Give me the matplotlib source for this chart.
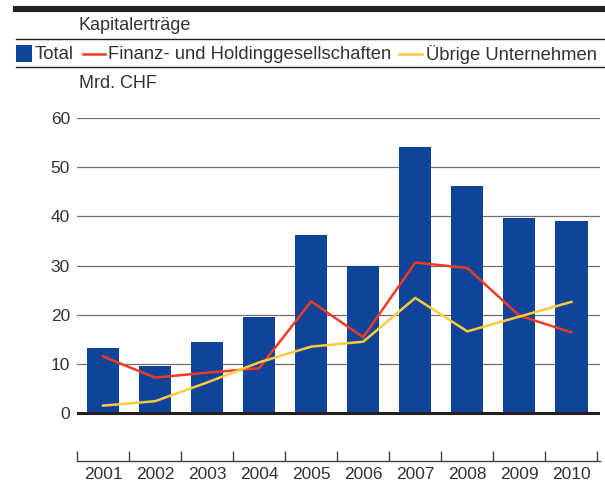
import matplotlib
matplotlib.use('Agg')
import matplotlib.pyplot as plt
from matplotlib.lines import Line2D
from matplotlib.patches import Rectangle

plt.rcParams['font.family'] = ['Liberation Sans', 'DejaVu Sans']

years = ['2001', '2002', '2003', '2004', '2005', '2006', '2007', '2008', '2009', '2010']
total = [13.3, 9.6, 14.5, 19.5, 36.2, 30.0, 54.1, 46.1, 39.6, 39.0]
finanz = [11.5, 7.2, 8.2, 9.1, 22.7, 15.4, 30.6, 29.5, 19.8, 16.4]
uebrige = [1.5, 2.4, 6.2, 10.3, 13.5, 14.5, 23.4, 16.6, 19.6, 22.6]
series_names = ['Total', 'Finanz- und Holdinggesellschaften', 'Übrige Unternehmen']

blue = '#10449a'
red = '#ee3b24'
yellow = '#fdcb3b'
txt = '#333333'

W, H = 605, 486
fig = plt.figure(figsize=(W / 100, H / 100), dpi=100)

def fx(px):
    return px / W

def fy(py):
    return 1 - py / H

# header rules
fig.add_artist(Line2D([fx(16), 1], [fy(9), fy(9)], color='#231f20', lw=4.4))
fig.add_artist(Line2D([fx(16), 1], [fy(39.5), fy(39.5)], color='#231f20', lw=1.0))
fig.add_artist(Line2D([fx(16), 1], [fy(67.5), fy(67.5)], color='#231f20', lw=1.0))

fig.text(fx(79), fy(26), 'Kapitalerträge', fontsize=13, color=txt, va='center', ha='left')
fig.text(fx(79), fy(83), 'Mrd. CHF', fontsize=13, color=txt, va='center', ha='left')

# legend row
ly = fy(54)
fs_leg = 13.3
fig.add_artist(Rectangle((fx(16), fy(62)), fx(16), 17 / H, color=blue, lw=0))
fig.text(fx(35), ly, series_names[0], fontsize=fs_leg, color=txt, va='center')
fig.add_artist(Line2D([fx(83), fx(105)], [ly, ly], color=red, lw=1.8))
fig.text(fx(108), ly, series_names[1], fontsize=fs_leg, color=txt, va='center')
fig.add_artist(Line2D([fx(399), fx(422)], [ly, ly], color=yellow, lw=1.8))
fig.text(fx(426), ly, series_names[2], fontsize=fs_leg, color=txt, va='center')

# main axes: 60 at y=118px, 0 at y=413px, x axis line at y=461px
top_px, zero_px, bottom_px = 118, 413, 461
unit = (zero_px - top_px) / 60.0
ymin = -(bottom_px - zero_px) / unit
ax = fig.add_axes([fx(77), 1 - bottom_px / H, fx(600) - fx(77), (bottom_px - top_px) / H])
ax.set_ylim(ymin, 60)
ax.set_xlim(-0.5, 9.55)

x = list(range(len(years)))
for g in range(10, 70, 10):
    ax.axhline(g, color='#707070', lw=0.9, zorder=1)
ax.axhline(0, color='#231f20', lw=2.2, zorder=4)

ax.bar(x, total, width=0.62, color=blue, zorder=2)
ax.plot(x, finanz, color=red, lw=1.8, zorder=3)
ax.plot(x, uebrige, color=yellow, lw=1.8, zorder=3)

for s in ['left', 'top', 'right']:
    ax.spines[s].set_visible(False)
ax.spines['bottom'].set_color('#444444')
ax.spines['bottom'].set_linewidth(1.0)

ax.set_yticks([0, 10, 20, 30, 40, 50, 60])
ax.tick_params(axis='y', length=0, pad=5, labelsize=12.5, labelcolor=txt)

ax.set_xticks([i - 0.5 for i in range(11)])
ax.set_xticklabels([])
ax.set_xticks(x, minor=True)
ax.set_xticklabels(years, minor=True)
ax.tick_params(axis='x', which='major', direction='in', length=7, width=1.0, color='#444444')
ax.tick_params(axis='x', which='minor', length=0, pad=4, labelsize=12.5, labelcolor=txt)

fig.savefig('out.png', dpi=100)
